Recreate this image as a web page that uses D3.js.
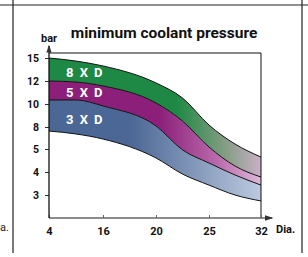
<!DOCTYPE html>
<html>
<head>
<meta charset="utf-8">
<script src="https://cdn.jsdelivr.net/npm/d3@7"></script>
<style>
  body { margin: 0; background: #fff; }
  svg { display: block; font-family: Roboto, "Open Sans", sans-serif; }
</style>
</head>
<body>
<div id="chart"></div>
<script>
// diameter ticks and pressure ticks (both axes are evenly spaced, not linear)
const xTicks = [4, 16, 20, 25, 32]
const yTicks = [3, 4, 5, 8, 10, 12, 15]

// sample diameters along the curves
const dia = [4, 10, 16, 20, 22.5, 25, 28.5, 32]

// boundary curves, pressure in bar
const top8xd = [15, 14.6, 13.96, 11.83, 10.52, 8.17, 5.68, 4.65]
const top5xd = [12, 11.91, 11.57, 10.09, 8.52, 5.27, 4.26, 3.78]
const top3xd = [10.35, 10.35, 9.83, 8.09, 4.96, 4.39, 3.87, 3.43]
const bottom3xd = [7.45, 7.05, 6.36, 4.61, 3.91, 3.43, 3.0, 2.74]

const bands = [
	{ name: "8 X D", upper: top8xd, lower: top5xd, grad: "gGreen" },
	{ name: "5 X D", upper: top5xd, lower: top3xd, grad: "gPurple" },
	{ name: "3 X D", upper: top3xd, lower: bottom3xd, grad: "gBlue" },
]

const width = 308
const height = 257

const svg = d3
	.select("#chart")
	.append("svg")
	.attr("width", width)
	.attr("height", height)

// piecewise scales so the ticks land evenly
const x = d3.scaleLinear().domain(xTicks).range([49, 103, 156, 209, 261])
const y = d3
	.scaleLinear()
	.domain([2].concat(yTicks))
	.range([218, 195, 172, 149, 127, 104, 81, 58])

// gradients
const defs = svg.append("defs")
const gradStops = {
	gGreen: [[0, "#1e8944"], [0.6, "#1e8944"], [0.82, "#7f9c80"], [1, "#c9b0c6"]],
	gPurple: [[0, "#8b1f79"], [0.52, "#8b1f79"], [0.8, "#bb6cad"], [1, "#ddb9d9"]],
	gBlue: [[0, "#4b6795"], [0.38, "#4b6795"], [1, "#bccae0"]],
}
Object.entries(gradStops).forEach(([id, stops]) => {
	const g = defs
		.append("linearGradient")
		.attr("id", id)
		.attr("gradientUnits", "userSpaceOnUse")
		.attr("x1", x(4))
		.attr("x2", x(32))
		.attr("y1", 0)
		.attr("y2", 0)
	stops.forEach((s) => {
		g.append("stop").attr("offset", s[0]).attr("stop-color", s[1])
	})
})

defs.append("marker")
	.attr("id", "arrow")
	.attr("viewBox", "0 0 6 6")
	.attr("refX", 5)
	.attr("refY", 3)
	.attr("markerWidth", 6)
	.attr("markerHeight", 6)
	.attr("orient", "auto")
	.append("path")
	.attr("d", "M0,1 L6,3 L0,5 Z")
	.attr("fill", "#333")

// outer table frame
const frame = svg.append("g").attr("stroke", "#222").attr("stroke-width", 1.2)
frame.append("line").attr("x1", 0).attr("x2", width).attr("y1", 5).attr("y2", 5)
frame.append("line").attr("x1", 13).attr("x2", 13).attr("y1", 0).attr("y2", 253)
frame.append("line").attr("x1", 302).attr("x2", 302).attr("y1", 0).attr("y2", 253)

// visible end of the neighbouring cell's label
svg.append("text")
	.attr("x", 9)
	.attr("y", 231)
	.attr("text-anchor", "end")
	.attr("font-size", 11)
	.attr("fill", "#222")
	.text("a.")

// bands
const area = d3
	.area()
	.x((d) => x(d.d))
	.y0((d) => y(d.lo))
	.y1((d) => y(d.hi))
	.curve(d3.curveMonotoneX)

const line = d3
	.line()
	.x((d, i) => x(dia[i]))
	.y((d) => y(d))
	.curve(d3.curveMonotoneX)

bands.forEach((b) => {
	const pts = dia.map((d, i) => ({ d: d, hi: b.upper[i], lo: b.lower[i] }))
	svg.append("path")
		.attr("d", area(pts))
		.attr("fill", "url(#" + b.grad + ")")
})

;[top8xd, top5xd, top3xd, bottom3xd].forEach((c) => {
	svg.append("path")
		.attr("d", line(c))
		.attr("fill", "none")
		.attr("stroke", "#111")
		.attr("stroke-width", 1)
})

// band labels
const labelPos = [
	{ x: 12, v: 12.55 },
	{ x: 12, v: 10.65 },
	{ x: 12, v: 8.3 },
]
bands.forEach((b, i) => {
	svg.append("text")
		.attr("x", x(labelPos[i].x))
		.attr("y", y(labelPos[i].v))
		.attr("text-anchor", "middle")
		.attr("fill", "#fff")
		.attr("font-size", 13)
		.attr("font-weight", "bold")
		.attr("letter-spacing", 1.5)
		.text(b.name)
})

// plot frame (top and right)
svg.append("path")
	.attr("d", `M${x(4)},53 H${x(32)} V${y(2)}`)
	.attr("fill", "none")
	.attr("stroke", "#111")
	.attr("stroke-width", 1)

// axes
const yAxis = svg
	.append("g")
	.attr("transform", `translate(${x(4)},0)`)
	.call(d3.axisLeft(y).tickValues(yTicks).tickSize(4).tickPadding(6))
yAxis.select(".domain").remove()
yAxis.selectAll("line").attr("stroke", "#333")
yAxis.selectAll("text")
	.attr("font-size", 10.5)
	.attr("font-weight", "bold")
	.attr("fill", "#111")
	.attr("font-family", "Roboto, sans-serif")

const xAxis = svg
	.append("g")
	.attr("transform", `translate(0,${y(2)})`)
	.call(d3.axisBottom(x).tickValues(xTicks).tickSize(-3).tickPadding(9))
xAxis.select(".domain").remove()
xAxis.selectAll("line").attr("stroke", "#666")
xAxis.selectAll("text")
	.attr("font-size", 11)
	.attr("font-weight", "bold")
	.attr("fill", "#111")
	.attr("font-family", "Roboto, sans-serif")

svg.append("line")
	.attr("x1", x(4))
	.attr("x2", 272)
	.attr("y1", y(2))
	.attr("y2", y(2))
	.attr("stroke", "#666")
	.attr("stroke-width", 1.5)
	.attr("marker-end", "url(#arrow)")

svg.append("line")
	.attr("x1", x(4))
	.attr("x2", x(4))
	.attr("y1", y(2))
	.attr("y2", 46)
	.attr("stroke", "#111")
	.attr("stroke-width", 1.3)
	.attr("marker-end", "url(#arrow)")

// titles
svg.append("text")
	.attr("x", 164)
	.attr("y", 38)
	.attr("text-anchor", "middle")
	.attr("font-size", 15.5)
	.attr("font-weight", "bold")
	.attr("fill", "#111")
	.text("minimum coolant pressure")

svg.append("text")
	.attr("x", x(4))
	.attr("y", 42)
	.attr("text-anchor", "middle")
	.attr("font-size", 11)
	.attr("font-weight", "bold")
	.attr("fill", "#111")
	.text("bar")

svg.append("text")
	.attr("x", 276)
	.attr("y", 233)
	.attr("font-size", 11)
	.attr("font-weight", "bold")
	.attr("fill", "#111")
	.text("Dia.")
</script>
</body>
</html>
